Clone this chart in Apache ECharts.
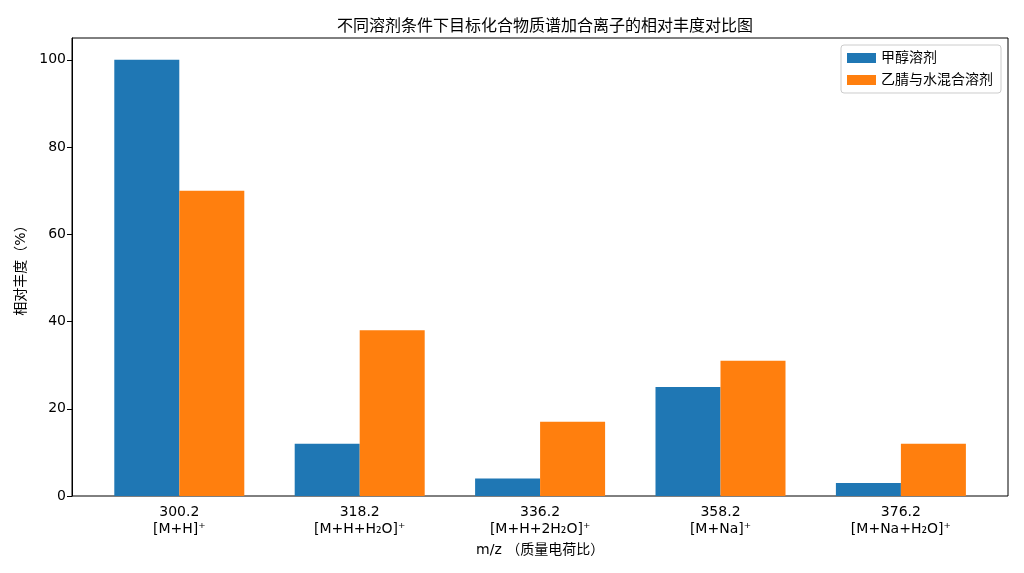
<!DOCTYPE html>
<html>
<head>
<meta charset="utf-8">
<script src="https://cdn.jsdelivr.net/npm/echarts@6/dist/echarts.min.js"></script>
<style>
  html, body { margin: 0; padding: 0; background: #fff; }
  #chart { width: 1024px; height: 573px; }
</style>
</head>
<body>
<div id="chart"></div>
<script>
// data
const mzValues = ['300.2', '318.2', '336.2', '358.2', '376.2'];
const ionLabels = ['[M+H]⁺', '[M+H+H₂O]⁺', '[M+H+2H₂O]⁺', '[M+Na]⁺', '[M+Na+H₂O]⁺'];
const seriesNames = ['甲醇溶剂', '乙腈与水混合溶剂'];
const methanolValues = [100, 12, 4, 25, 3];
const mixedValues = [70, 38, 17, 31, 12];
const yTicks = [0, 20, 40, 60, 80, 100];

const categories = mzValues.map((m, i) => m + '\n' + ionLabels[i]);
const font = 'DejaVu Sans, "Noto Sans CJK SC", sans-serif';

const chart = echarts.init(document.getElementById('chart'));

// grid 0 holds the bars (matplotlib-like margins), grid 1 draws the frame and y axis
const option = {
    animation: false,
    backgroundColor: '#fff',
    textStyle: { fontFamily: font, color: '#000' },
    title: {
        text: '不同溶剂条件下目标化合物质谱加合离子的相对丰度对比图',
        left: 540,
        textAlign: 'center',
        top: 14,
        textStyle: { fontFamily: font, fontSize: 16, fontWeight: 'normal', color: '#000' }
    },
    legend: {
        orient: 'vertical',
        right: 23,
        top: 45,
        itemWidth: 29,
        itemHeight: 10,
        itemGap: 8,
        padding: [6, 8, 6, 6],
        borderColor: '#ccc',
        borderWidth: 1,
        borderRadius: 3,
        icon: 'rect',
        textStyle: { fontFamily: font, fontSize: 14, color: '#000' },
        data: seriesNames
    },
    grid: [
        { left: 89.1, width: 902, top: 38, bottom: 77 },
        { left: 72, right: 16, top: 38, bottom: 77, show: true, borderColor: '#000', borderWidth: 1, backgroundColor: 'transparent' }
    ],
    xAxis: [
        {
            type: 'category',
            gridIndex: 0,
            data: categories,
            axisLine: { show: false },
            axisTick: { alignWithLabel: true, length: 5, lineStyle: { color: '#000' } },
            axisLabel: { fontFamily: font, fontSize: 14, color: '#000', lineHeight: 17, margin: 8 },
            name: 'm/z （质量电荷比）',
            nameLocation: 'middle',
            nameGap: 46,
            nameTextStyle: { fontFamily: font, fontSize: 14, color: '#000' }
        },
        { type: 'value', gridIndex: 1, show: false }
    ],
    yAxis: [
        { type: 'value', gridIndex: 0, min: 0, max: 105, show: false },
        {
            type: 'value',
            gridIndex: 1,
            min: 0,
            max: 105,
            axisLine: { show: true, lineStyle: { color: '#000' } },
            axisTick: { show: true, length: 5, customValues: yTicks, lineStyle: { color: '#000' } },
            axisLabel: { fontFamily: font, fontSize: 14, color: '#000', margin: 6, customValues: yTicks },
            splitLine: { show: false },
            name: '相对丰度（%）',
            nameLocation: 'middle',
            nameGap: 43,
            nameTextStyle: { fontFamily: font, fontSize: 14, color: '#000' }
        }
    ],
    series: [
        {
            name: seriesNames[0],
            type: 'bar',
            xAxisIndex: 0,
            yAxisIndex: 0,
            data: methanolValues,
            barWidth: 65,
            barGap: '0%',
            itemStyle: { color: '#1f77b4' }
        },
        {
            name: seriesNames[1],
            type: 'bar',
            xAxisIndex: 0,
            yAxisIndex: 0,
            data: mixedValues,
            barWidth: 65,
            barGap: '0%',
            itemStyle: { color: '#ff7f0e' }
        }
    ]
};

chart.setOption(option);
</script>
</body>
</html>
